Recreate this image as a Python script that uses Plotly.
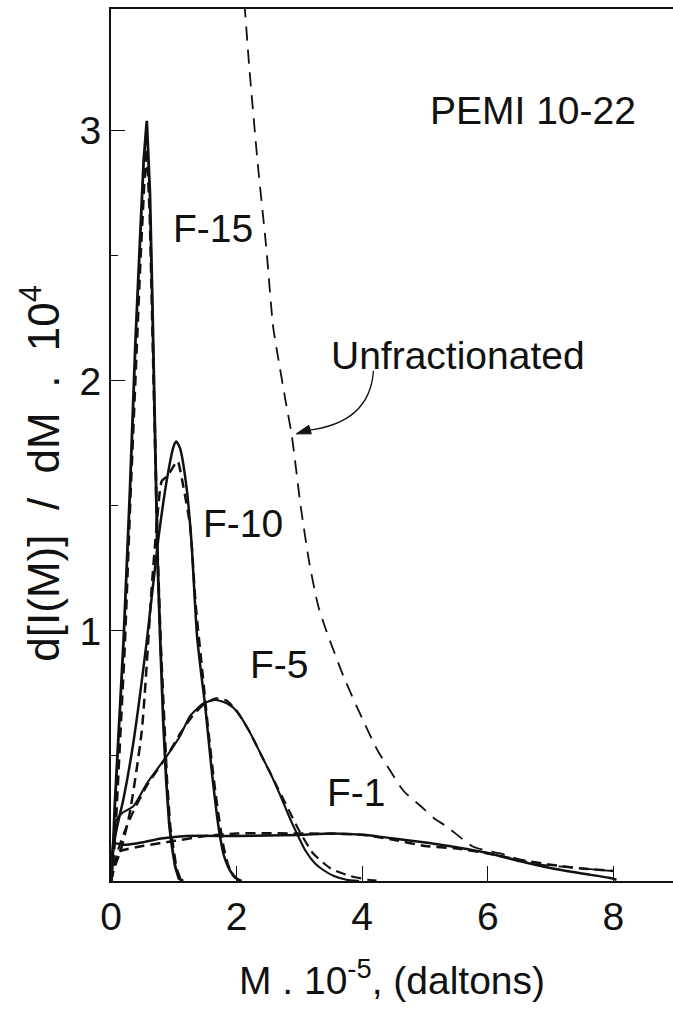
import plotly.graph_objects as go

# Molecular weight distributions of PEMI 10-22 fractions (M in units of 1e5 daltons)
f15_x = [0.0, 0.02, 0.06, 0.12, 0.20, 0.30, 0.39, 0.46, 0.52, 0.57, 0.62, 0.66, 0.70, 0.74, 0.785, 0.83, 0.88, 0.93, 0.97, 1.02, 1.08, 1.15]
f15_y = [0.0, 0.05, 0.30, 0.60, 0.96, 1.55, 2.16, 2.55, 2.88, 3.04, 2.75, 2.30, 1.75, 1.30, 0.96, 0.65, 0.40, 0.22, 0.14, 0.06, 0.01, 0.0]
f15_fit_x = [0.0, 0.03, 0.08, 0.14, 0.22, 0.31, 0.40, 0.47, 0.53, 0.57, 0.62, 0.66, 0.70, 0.745, 0.79, 0.84, 0.89, 0.94, 0.99, 1.04, 1.10, 1.16]
f15_fit_y = [0.0, 0.04, 0.25, 0.55, 0.95, 1.55, 2.12, 2.50, 2.80, 2.93, 2.66, 2.25, 1.72, 1.28, 0.95, 0.64, 0.40, 0.22, 0.13, 0.05, 0.01, 0.0]

f10_x = [0.0, 0.03, 0.10, 0.20, 0.36, 0.57, 0.75, 0.90, 1.00, 1.04, 1.10, 1.20, 1.28, 1.37, 1.45, 1.50, 1.60, 1.71, 1.80, 1.90, 2.00, 2.08]
f10_y = [0.0, 0.12, 0.22, 0.33, 0.56, 0.96, 1.36, 1.62, 1.74, 1.757, 1.73, 1.58, 1.36, 0.98, 0.80, 0.70, 0.45, 0.22, 0.10, 0.04, 0.01, 0.0]
f10_fit_x = [0.0, 0.05, 0.15, 0.29, 0.49, 0.65, 0.72, 0.81, 0.90, 1.00, 1.06, 1.15, 1.26, 1.35, 1.45, 1.55, 1.65, 1.72, 1.79, 1.87, 1.95, 2.05]
f10_fit_y = [0.0, 0.05, 0.12, 0.26, 0.60, 1.18, 1.40, 1.60, 1.62, 1.66, 1.68, 1.58, 1.42, 1.10, 0.85, 0.60, 0.38, 0.25, 0.14, 0.06, 0.02, 0.0]

f5_x = [0.0, 0.03, 0.08, 0.17, 0.36, 0.57, 0.89, 1.10, 1.26, 1.47, 1.66, 1.85, 2.00, 2.20, 2.40, 2.54, 2.70, 2.85, 2.96, 3.10, 3.25, 3.38, 3.55, 3.75, 3.95]
f5_y = [0.0, 0.15, 0.24, 0.27, 0.30, 0.39, 0.50, 0.58, 0.66, 0.71, 0.724, 0.71, 0.68, 0.60, 0.50, 0.43, 0.34, 0.25, 0.19, 0.12, 0.07, 0.044, 0.02, 0.005, 0.0]
f5_fit_x = [0.0, 0.05, 0.12, 0.22, 0.36, 0.57, 0.89, 1.10, 1.30, 1.50, 1.68, 1.85, 2.00, 2.20, 2.40, 2.60, 2.80, 3.00, 3.22, 3.50, 3.81, 4.10, 4.30]
f5_fit_y = [0.0, 0.06, 0.13, 0.20, 0.28, 0.38, 0.50, 0.59, 0.66, 0.71, 0.73, 0.72, 0.68, 0.60, 0.50, 0.40, 0.30, 0.20, 0.11, 0.05, 0.02, 0.005, 0.0]

f1_x = [0.0, 0.02, 0.06, 0.20, 0.40, 0.80, 1.20, 2.00, 3.00, 3.50, 4.05, 4.50, 5.07, 5.50, 6.00, 6.50, 7.00, 7.50, 7.95, 8.05]
f1_y = [0.0, 0.10, 0.15, 0.145, 0.15, 0.17, 0.18, 0.18, 0.184, 0.19, 0.184, 0.17, 0.152, 0.135, 0.112, 0.08, 0.052, 0.03, 0.012, 0.005]
f1_fit_x = [0.0, 0.05, 0.15, 0.50, 1.00, 1.50, 2.00, 3.00, 4.00, 4.50, 5.00, 5.50, 6.00, 6.50, 7.00, 7.50, 8.00]
f1_fit_y = [0.0, 0.10, 0.12, 0.14, 0.16, 0.18, 0.19, 0.19, 0.185, 0.165, 0.14, 0.13, 0.11, 0.085, 0.065, 0.05, 0.04]

unfr_x = [2.08, 2.13, 2.20, 2.34, 2.47, 2.58, 2.65, 2.78, 2.88, 3.02, 3.16, 3.30, 3.43, 3.70, 4.00, 4.25, 4.45, 4.66, 4.93, 5.15, 5.35, 5.77, 6.20, 6.73, 7.30, 7.79, 8.00]
unfr_y = [3.60, 3.49, 3.26, 2.86, 2.54, 2.22, 2.11, 1.92, 1.78, 1.50, 1.27, 1.10, 1.00, 0.82, 0.65, 0.52, 0.44, 0.36, 0.30, 0.25, 0.217, 0.137, 0.11, 0.07, 0.055, 0.044, 0.04]

curve_labels = ["PEMI 10-22", "F-15", "Unfractionated", "F-10", "F-5", "F-1"]
label_x = [6.72, 1.63, 5.53, 2.10, 2.68, 3.91]
label_y = [3.08, 2.61, 2.10, 1.43, 0.864, 0.353]

x_ticks = [0, 2, 4, 6, 8]
y_ticks = [1, 2, 3]

FONT = "Liberation Sans, Arial, sans-serif"
INK = "#111111"
NBSP = "\u00a0"

fig = go.Figure()

def add_curve(xs, ys, dashed, width=2.5, shape="spline"):
    fig.add_trace(go.Scatter(
        x=xs, y=ys, mode="lines",
        line=dict(color=INK, width=width, dash="10px,6px" if dashed else "solid",
                  shape=shape, smoothing=0.6),
        showlegend=False, hoverinfo="skip",
    ))

add_curve(f15_x, f15_y, False, width=2.8, shape="linear")
add_curve(f15_fit_x, f15_fit_y, True, width=2.8, shape="linear")
add_curve(f10_x, f10_y, False)
add_curve(f10_fit_x, f10_fit_y, True)
add_curve(f5_x, f5_y, False, width=2.1)
add_curve(f5_fit_x, f5_fit_y, True, width=2.2)
add_curve(f1_x, f1_y, False)
add_curve(f1_fit_x, f1_fit_y, True)
fig.add_trace(go.Scatter(
    x=unfr_x, y=unfr_y, mode="lines",
    line=dict(color=INK, width=1.8, dash="14px,9px", shape="spline", smoothing=0.6),
    showlegend=False, hoverinfo="skip",
))

for txt, lx, ly in zip(curve_labels, label_x, label_y):
    fig.add_annotation(x=lx, y=ly, text=txt, showarrow=False,
                       font=dict(family=FONT, size=39, color=INK))

# curved pointer from the "Unfractionated" label to its curve, with a filled head
fig.add_shape(type="path", xref="x", yref="y",
              path="M 4.18,2.04 Q 4.12,1.83 3.12,1.802",
              line=dict(color=INK, width=1.3))
fig.add_shape(type="path", xref="x", yref="y",
              path="M 2.95,1.788 L 3.19,1.788 L 3.15,1.822 Z",
              line=dict(color=INK, width=1), fillcolor=INK)

# vertical axis title
fig.add_annotation(xref="paper", yref="paper", x=-0.125, y=0.468,
                   xanchor="center", yanchor="middle",
                   text=f"d[I(M)]{NBSP}{NBSP}/{NBSP}{NBSP}dM{NBSP}{NBSP}.{NBSP}{NBSP}10<sup>4</sup>",
                   textangle=-90, showarrow=False,
                   font=dict(family=FONT, size=44, color=INK))

fig.update_layout(
    width=673, height=1011,
    margin=dict(l=111, r=0, t=9, b=130),
    paper_bgcolor="white", plot_bgcolor="white",
    font=dict(family=FONT, color=INK),
    xaxis=dict(
        range=[0, 8.95], tickvals=x_ticks, ticks="inside", ticklen=15,
        tickwidth=1.4, tickcolor=INK, showline=True, linecolor=INK,
        linewidth=2, mirror=True, showgrid=False, zeroline=False,
        tickfont=dict(family=FONT, size=39, color=INK),
        title=dict(text="M . 10<sup>-5</sup>, (daltons)",
                   font=dict(family=FONT, size=39, color=INK), standoff=30),
    ),
    yaxis=dict(
        range=[0, 3.487], tickvals=y_ticks, ticks="inside", ticklen=14,
        tickwidth=1.4, tickcolor=INK, showline=True, linecolor=INK,
        linewidth=2, mirror=False, showgrid=False, zeroline=False,
        tickfont=dict(family=FONT, size=39, color=INK),
        minor=dict(tickvals=[0.5, 1.5, 2.5], ticks="inside", ticklen=7,
                   tickwidth=1.2, tickcolor=INK),
    ),
)

fig.write_html("out.html")
